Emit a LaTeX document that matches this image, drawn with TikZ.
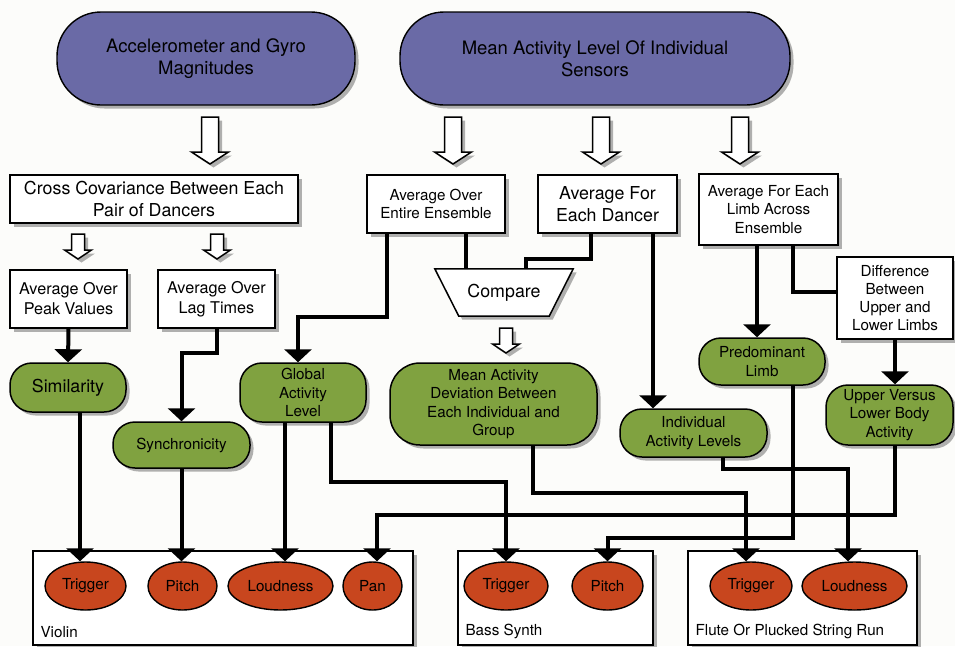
\documentclass[tikz,border=0pt]{standalone}
\usepackage{fontspec}
\setmainfont{TeX Gyre Heros}
\usetikzlibrary{shapes.geometric,shadows,arrows.meta}

\definecolor{sensorblue}{RGB}{106,106,166}
\definecolor{featgreen}{RGB}{128,162,64}
\definecolor{paramred}{RGB}{200,70,30}
\definecolor{paper}{RGB}{252,252,250}

\newcommand\fsPill{\fontsize{18.5}{22}\selectfont}
\newcommand\fsBig{\fontsize{17.8}{21.5}\selectfont}
\newcommand\fsMid{\fontsize{16.2}{20}\selectfont}
\newcommand\fsSmall{\fontsize{15.2}{18.3}\selectfont}

\begin{document}
\begin{tikzpicture}[x=1pt,y=-1pt,
  dshadow/.style={drop shadow={shadow xshift=3.5pt,shadow yshift=-3.5pt,fill=black,opacity=0.3}},
  pill/.style={draw,line width=1.4pt,fill=sensorblue,rounded corners=44pt,dshadow,align=center,inner sep=0pt,font=\fsPill},
  box/.style={draw,line width=1.5pt,fill=white,dshadow,align=center,inner sep=0pt},
  feat/.style={draw,line width=1.5pt,fill=featgreen,rounded corners=22pt,dshadow,align=center,inner sep=0pt,font=\fsSmall},
  param/.style={ellipse,draw,line width=1.4pt,fill=paramred,inner sep=0pt,minimum height=48pt,font=\fsSmall},
  group/.style={draw,line width=1.2pt,fill=white,dshadow,inner sep=0pt},
  grouplabel/.style={anchor=west,inner sep=0pt,font=\fsSmall},
  conn/.style={line width=4pt,-{Triangle[width=27pt,length=13pt]}},
  wire/.style={line width=4pt},
  hollow/.style={draw,line width=1.5pt,fill=white,line join=miter,dshadow},
  bigarrow/.pic={\path[hollow] (-8.5,0) -- (8.5,0) -- (8.5,35) -- (18.5,35) -- (0,47)
      -- (-18.5,35) -- (-8.5,35) -- cycle;},
  smallarrow/.pic={\path[hollow] (-6.5,0) -- (6.5,0) -- (6.5,16) -- (13.5,16) -- (0,25)
      -- (-13.5,16) -- (-6.5,16) -- cycle;},
]
\useasboundingbox (0,0) rectangle (955,646);
\fill[paper] (0,0) rectangle (955,646);

% sensor sources
\node[pill,minimum width=298pt,minimum height=93pt] (acc) at (206,58.5)
  {Accelerometer and Gyro\\Magnitudes};
\node[pill,minimum width=390pt,minimum height=93pt] (mal) at (595,58.5)
  {Mean Activity Level Of Individual\\Sensors};

% processing steps
\node[box,font=\fsBig,minimum width=288pt,minimum height=48pt] (cc) at (154,199)
  {Cross Covariance Between Each\\Pair of Dancers};
\node[box,font=\fsMid,minimum width=117pt,minimum height=58pt] (peak) at (68.5,299)
  {Average Over\\Peak Values};
\node[box,font=\fsMid,minimum width=117pt,minimum height=58pt] (lag) at (216.5,299)
  {Average Over\\Lag Times};
\node[box,font=\fsSmall,minimum width=138pt,minimum height=58pt] (ens) at (436,204)
  {Average Over\\Entire Ensemble};
\node[box,font=\fsBig,minimum width=139pt,minimum height=58pt] (dancer) at (607.5,204)
  {Average For\\Each Dancer};
\node[box,font=\fsSmall,minimum width=139pt,minimum height=71pt] (limb) at (768.5,209.5)
  {Average For Each\\Limb Across\\Ensemble};
\node[box,font=\fsSmall,minimum width=116pt,minimum height=82pt] (diff) at (895,298)
  {Difference\\Between\\Upper and\\Lower Limbs};

% compare step
\node[minimum width=138pt,minimum height=47pt,inner sep=0pt] (cmp) at (504,292.5) {};
\path[hollow] (cmp.north west) -- (cmp.north east) -- ([xshift=-24pt]cmp.south east)
  -- ([xshift=24pt]cmp.south west) -- cycle;
\node[font=\fsBig,inner sep=0pt] (cmptext) at (cmp) {Compare};

% features
\node[feat,font=\fsBig,minimum width=116pt,minimum height=49pt] (sim) at (68,387.5) {Similarity};
\node[feat,minimum width=137pt,minimum height=46pt] (sync) at (181.5,445) {Synchronicity};
\node[feat,minimum width=126pt,minimum height=59pt] (glob) at (303,392.5) {Global\\Activity\\Level};
\node[feat,rounded corners=30pt,minimum width=207pt,minimum height=82pt] (dev) at (493.5,404)
  {Mean Activity\\Deviation Between\\Each Individual and\\Group};
\node[feat,minimum width=126pt,minimum height=47pt] (pred) at (762,361.5) {Predominant\\Limb};
\node[feat,minimum width=147pt,minimum height=48pt] (ind) at (693.5,433) {Individual\\Activity Levels};
\node[feat,minimum width=127pt,minimum height=60pt] (uvl) at (889.5,415) {Upper Versus\\Lower Body\\Activity};

% instruments
\node[group,minimum width=380pt,minimum height=94pt] (violin) at (223,598) {};
\node[group,minimum width=195pt,minimum height=94pt] (bass) at (555.5,598) {};
\node[group,minimum width=229pt,minimum height=94pt] (flute) at (802.5,598) {};
\node[grouplabel] (violinlbl) at ([xshift=8pt,yshift=14pt]violin.south west) {Violin};
\node[grouplabel] (basslbl) at ([xshift=8pt,yshift=14pt]bass.south west) {Bass Synth};
\node[grouplabel] (flutelbl) at ([xshift=8pt,yshift=14pt]flute.south west) {Flute Or Plucked String Run};

\node[param,minimum width=81pt] (vt) at (85.5,586) {Trigger};
\node[param,minimum width=69pt] (vp) at (182.5,586) {Pitch};
\node[param,minimum width=105pt] (vl) at (280.5,586) {Loudness};
\node[param,minimum width=59pt] (vpan) at (372.5,586) {Pan};
\node[param,minimum width=84pt] (bt) at (506,586) {Trigger};
\node[param,minimum width=71pt] (bp) at (607.5,586) {Pitch};
\node[param,minimum width=82pt] (ft) at (751,586) {Trigger};
\node[param,minimum width=105pt] (fl) at (854.5,586) {Loudness};

% hollow flow arrows
\pic at (210,117) {bigarrow};
\pic at (453,117) {bigarrow};
\pic at (601,117) {bigarrow};
\pic at (740,117) {bigarrow};
\pic at (78,234) {smallarrow};
\pic at (217,234) {smallarrow};
\pic at (506,328) {smallarrow};

% connectors between steps
\draw[conn] (peak.south) -- (sim.north);
\draw[conn] (lag.south) -- ++(0,24) -| (sync.north);
\draw[conn] ([xshift=-49pt]ens.south) -- ++(0,83) -| ([xshift=-5pt]glob.north);
\draw[wire] ([xshift=30pt]ens.south) -- ([xshift=30pt]ens.south |- cmp.north);
\draw[wire] ([xshift=-16.5pt]dancer.south) -- ++(0,25) -| ([xshift=22pt]cmp.north);
\draw[conn] ([xshift=45.5pt]dancer.south) -- ([xshift=45.5pt]dancer.south |- ind.north);
\draw[conn] ([xshift=-11.5pt]limb.south) -- ([xshift=-11.5pt]limb.south |- pred.north);
\draw[wire] ([xshift=24.5pt]limb.south) |- ([yshift=6pt]diff.west);
\draw[conn] (diff.south) -- (diff.south |- uvl.north);

% connectors to instrument parameters
\draw[conn] ([xshift=12pt]sim.south) -- ([xshift=12pt]sim.south |- vt.north);
\draw[conn] (sync.south) -- (sync.south |- vp.north);
\draw[conn] ([xshift=-18pt]glob.south) -- ([xshift=-18pt]glob.south |- vl.north);
\draw[conn] ([xshift=28pt]glob.south) -- ++(0,59) -| (bt.north);
\draw[conn] ([xshift=39.5pt]dev.south) -- ++(0,47) -| ([xshift=-5pt]ft.north);
\draw[conn] ([xshift=29.5pt]ind.south) -- ++(0,11) -| ([xshift=-6.5pt]fl.north);
\draw[conn] ([xshift=31pt]pred.south) -- ++(0,152) -| (bp.north);
\draw[conn] ([xshift=5.5pt]uvl.south) -- ++(0,69) -| ([xshift=4.5pt]vpan.north);
\end{tikzpicture}
\end{document}
